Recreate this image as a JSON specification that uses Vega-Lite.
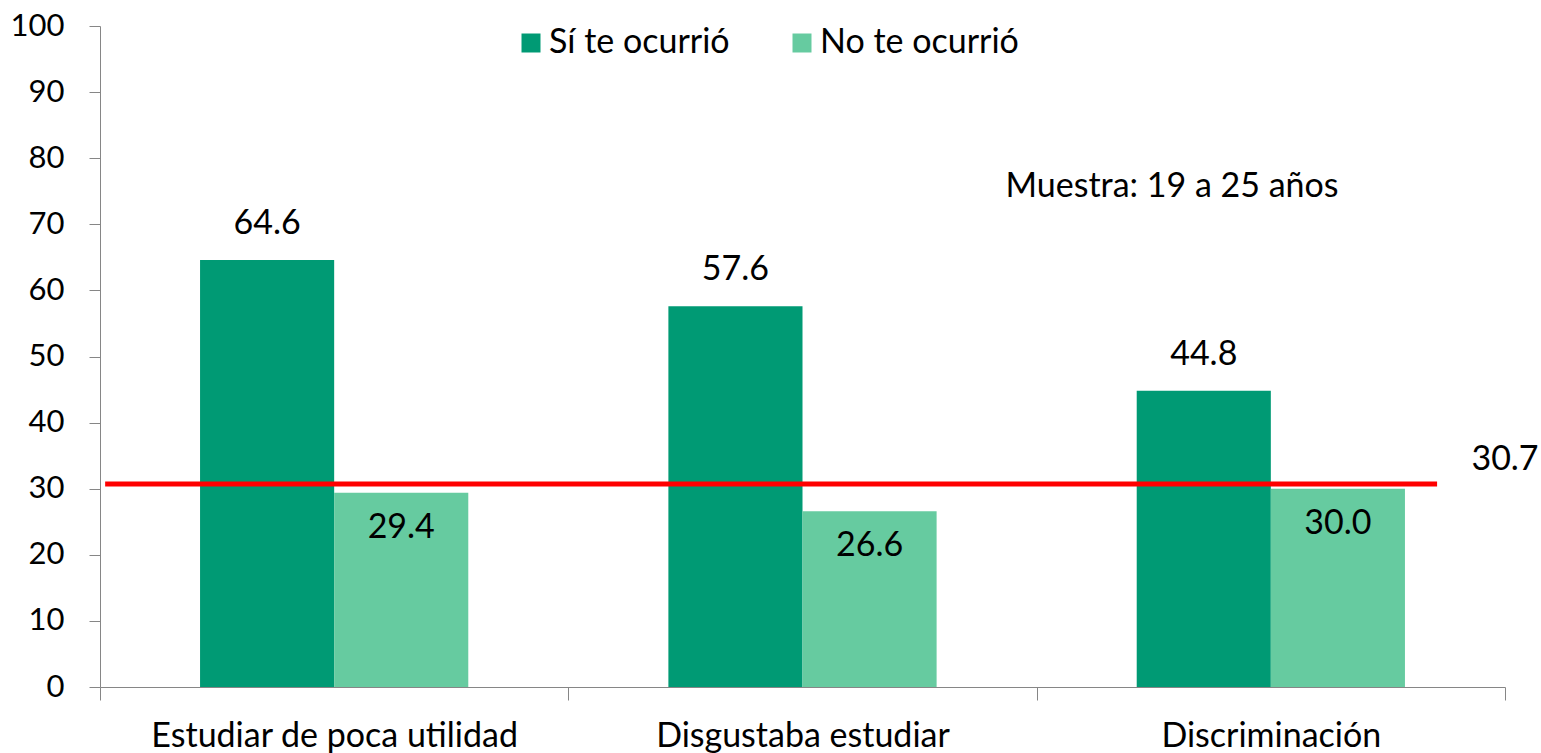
{
  "$schema": "https://vega.github.io/schema/vega-lite/v6.json",
  "width": 1405,
  "height": 661,
  "autosize": {"type": "none"},
  "padding": {"left": 100, "top": 26, "right": 36, "bottom": 66},
  "config": {
    "view": {"stroke": null},
    "font": "Lato",
    "text": {"font": "Lato", "fontSize": 34, "color": "#000000"}
  },
  "datasets": {
    "bars": [
      {"cat": "Estudiar de poca utilidad", "serie": "Sí te ocurrió", "valor": 64.6},
      {"cat": "Estudiar de poca utilidad", "serie": "No te ocurrió", "valor": 29.4},
      {"cat": "Disgustaba estudiar", "serie": "Sí te ocurrió", "valor": 57.6},
      {"cat": "Disgustaba estudiar", "serie": "No te ocurrió", "valor": 26.6},
      {"cat": "Discriminación", "serie": "Sí te ocurrió", "valor": 44.8},
      {"cat": "Discriminación", "serie": "No te ocurrió", "valor": 30.0}
    ],
    "ref": [{"ref": 30.7, "nota": "Muestra: 19 a 25 años"}]
  },
  "layer": [
    {
      "data": {"name": "bars"},
      "mark": {"type": "bar"},
      "encoding": {
        "x": {
          "field": "cat", "type": "nominal", "sort": null,
          "scale": {"paddingInner": 0, "paddingOuter": 0},
          "axis": {
            "title": null, "labelAngle": 0, "labelFontSize": 34, "labelFont": "Lato", "labelLimit": 0,
            "labelColor": "#000000", "tickBand": "extent", "tickSize": 13,
            "tickColor": "#868686", "domainColor": "#868686", "labelPadding": 19
          }
        },
        "xOffset": {
          "field": "serie", "type": "nominal", "sort": ["Sí te ocurrió", "No te ocurrió"],
          "scale": {"paddingInner": 0, "paddingOuter": 0.746}
        },
        "y": {
          "field": "valor", "type": "quantitative",
          "scale": {"domain": [0, 100], "nice": false},
          "axis": {
            "title": null, "values": [0, 10, 20, 30, 40, 50, 60, 70, 80, 90, 100],
            "grid": false, "labelFontSize": 31, "labelFont": "Lato", "labelColor": "#000000",
            "tickSize": 11, "tickColor": "#868686", "domainColor": "#868686", "labelPadding": 25
          }
        },
        "color": {
          "field": "serie", "type": "nominal",
          "scale": {"domain": ["Sí te ocurrió", "No te ocurrió"], "range": ["#009A74", "#66CBA0"]},
          "legend": {
            "title": null, "orient": "none", "legendX": 414, "legendY": 0,
            "direction": "horizontal", "symbolType": "square", "symbolSize": 361,
            "symbolStrokeWidth": 0, "labelFontSize": 34, "labelFont": "Lato", "labelColor": "#000000",
            "labelLimit": 0, "labelOffset": 1, "columnPadding": 55, "padding": 0
          }
        }
      }
    },
    {
      "data": {"name": "bars"},
      "transform": [{"filter": "datum.serie === 'Sí te ocurrió'"}],
      "mark": {"type": "text", "dy": -36, "baseline": "middle"},
      "encoding": {
        "x": {"field": "cat", "type": "nominal", "sort": null},
        "xOffset": {"field": "serie", "type": "nominal", "sort": ["Sí te ocurrió", "No te ocurrió"]},
        "y": {"field": "valor", "type": "quantitative"},
        "text": {"field": "valor", "type": "quantitative", "format": ".1f"}
      }
    },
    {
      "data": {"name": "bars"},
      "transform": [{"filter": "datum.serie === 'No te ocurrió'"}],
      "mark": {"type": "text", "dy": 35, "baseline": "middle"},
      "encoding": {
        "x": {"field": "cat", "type": "nominal", "sort": null},
        "xOffset": {"field": "serie", "type": "nominal", "sort": ["Sí te ocurrió", "No te ocurrió"]},
        "y": {"field": "valor", "type": "quantitative"},
        "text": {"field": "valor", "type": "quantitative", "format": ".1f"}
      }
    },
    {
      "data": {"name": "ref"},
      "mark": {"type": "rule", "color": "#FF0000", "strokeWidth": 5},
      "encoding": {
        "x": {"datum": "Estudiar de poca utilidad", "type": "nominal", "bandPosition": 0.011},
        "x2": {"datum": "Discriminación", "bandPosition": 0.855},
        "y": {"field": "ref", "type": "quantitative"}
      }
    },
    {
      "data": {"name": "ref"},
      "mark": {"type": "text", "dy": -24, "baseline": "middle", "align": "center"},
      "encoding": {
        "x": {"datum": "Discriminación", "type": "nominal", "bandPosition": 1},
        "y": {"field": "ref", "type": "quantitative"},
        "text": {"field": "ref", "type": "quantitative", "format": ".1f"}
      }
    },
    {
      "data": {"name": "ref"},
      "mark": {"type": "text", "baseline": "middle", "align": "center"},
      "encoding": {
        "x": {"datum": "Discriminación", "type": "nominal", "bandPosition": 0.289},
        "y": {"datum": 75.6, "type": "quantitative"},
        "text": {"field": "nota", "type": "nominal"}
      }
    }
  ]
}
